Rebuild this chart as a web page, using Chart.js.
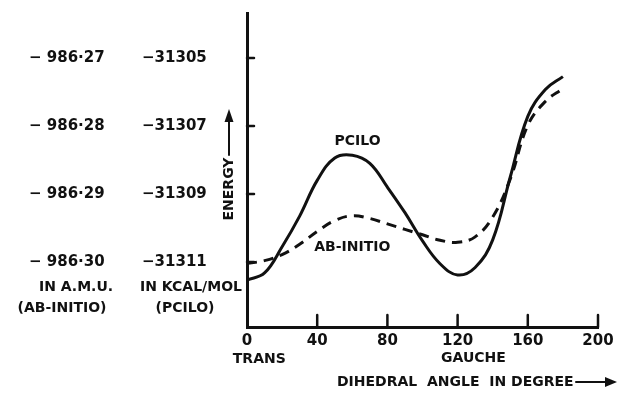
<!DOCTYPE html>
<html>
<head>
<meta charset="utf-8">
<script src="https://cdn.jsdelivr.net/npm/chart.js@4/dist/chart.umd.min.js"></script>
<style>
html,body{margin:0;padding:0;background:#fff;}
canvas{display:block;}
</style>
</head>
<body>
<canvas id="c" width="619" height="394"></canvas>
<script>
// Dihedral angle (degrees)
const angles = [0,10,20,30,40,50,60,70,80,90,100,110,120,130,140,150,160,170,180];
// PCILO energy, kcal/mol
const pciloKcal = [-31311.53,-31311.32,-31310.55,-31309.65,-31308.60,-31307.94,-31307.86,-31308.10,-31308.80,-31309.55,-31310.38,-31311.05,-31311.38,-31311.16,-31310.35,-31308.50,-31306.72,-31305.93,-31305.55];
// Ab-initio energy, a.m.u.
const abInitioAu = [-986.3002,-986.2998,-986.2989,-986.2974,-986.2955,-986.2939,-986.2932,-986.2936,-986.2944,-986.2952,-986.2960,-986.2968,-986.2971,-986.2963,-986.2934,-986.2878,-986.2799,-986.2764,-986.2745];

const xTicks = [0,40,80,120,160,200];
const kcalTicks = [-31305,-31307,-31309,-31311];
const kcalTickLabels = ['\u221231305','\u221231307','\u221231309','\u221231311'];
const auTicks = [-986.27,-986.28,-986.29,-986.30];
const auTickLabels = ['\u2212 986\u00b727','\u2212 986\u00b728','\u2212 986\u00b729','\u2212 986\u00b730'];

const INK = '#111';
const FONT = 'DejaVu Sans';

const decor = {
  id: 'decor',
  afterDraw(chart) {
    const ctx = chart.ctx;
    const xs = chart.scales.x, yk = chart.scales.yk;
    const ca = chart.chartArea;
    ctx.save();
    ctx.strokeStyle = INK; ctx.fillStyle = INK;
    ctx.lineCap = 'round';
    // inner ticks on y axis
    ctx.lineWidth = 2.5;
    kcalTicks.forEach(v => {
      const y = yk.getPixelForValue(v);
      ctx.beginPath(); ctx.moveTo(ca.left, y); ctx.lineTo(ca.left + 7, y); ctx.stroke();
    });
    // inner ticks on x axis
    xTicks.slice(1).forEach(v => {
      const x = xs.getPixelForValue(v);
      ctx.beginPath(); ctx.moveTo(x, ca.bottom); ctx.lineTo(x, ca.bottom - 12); ctx.stroke();
    });
    // text annotations
    ctx.font = 'bold 14px "' + FONT + '"';
    ctx.textAlign = 'center'; ctx.textBaseline = 'middle';
    ctx.fillText('PCILO', xs.getPixelForValue(63), 141);
    ctx.fillText('AB-INITIO', xs.getPixelForValue(60), 247);
    ctx.fillText('TRANS', xs.getPixelForValue(7), 359);
    ctx.fillText('GAUCHE', xs.getPixelForValue(129), 358);
    ctx.fillText('IN A.M.U.', 76, 287);
    ctx.fillText('(AB-INITIO)', 62, 308);
    ctx.fillText('IN KCAL/MOL', 191, 287);
    ctx.fillText('(PCILO)', 185, 308);
    // x title with arrow
    ctx.textAlign = 'left';
    ctx.fillText('DIHEDRAL  ANGLE  IN DEGREE', 337, 382);
    ctx.lineWidth = 2;
    ctx.beginPath(); ctx.moveTo(576, 382); ctx.lineTo(607, 382); ctx.stroke();
    ctx.beginPath(); ctx.moveTo(617, 382); ctx.lineTo(605, 377); ctx.lineTo(605, 387); ctx.closePath(); ctx.fill();
    // ENERGY vertical with arrow
    ctx.save();
    ctx.translate(229, 189);
    ctx.rotate(-Math.PI/2);
    ctx.textAlign = 'center';
    ctx.font = 'bold 14px "' + FONT + '"';
    ctx.fillText('ENERGY', 0, 0);
    ctx.restore();
    ctx.lineWidth = 2;
    ctx.beginPath(); ctx.moveTo(229, 155); ctx.lineTo(229, 120); ctx.stroke();
    ctx.beginPath(); ctx.moveTo(229, 109); ctx.lineTo(224.5, 122); ctx.lineTo(233.5, 122); ctx.closePath(); ctx.fill();
    ctx.restore();
  }
};

new Chart(document.getElementById('c'), {
  type: 'line',
  data: {
    datasets: [
      {
        label: 'PCILO',
        yAxisID: 'yk',
        data: angles.map((a, i) => ({x: a, y: pciloKcal[i]})),
        borderColor: INK, borderWidth: 3, pointRadius: 0,
        tension: 0.4, fill: false
      },
      {
        label: 'AB-INITIO',
        yAxisID: 'ya',
        data: angles.map((a, i) => ({x: a, y: abInitioAu[i]})),
        borderColor: INK, borderWidth: 3, pointRadius: 0,
        borderDash: [10, 7],
        tension: 0.4, fill: false
      }
    ]
  },
  options: {
    responsive: false,
    animation: false,
    devicePixelRatio: 1,
    layout: {padding: {top: 13, right: 21, bottom: 0, left: 29}},
    plugins: {legend: {display: false}, tooltip: {enabled: false}},
    scales: {
      x: {
        type: 'linear', min: 0, max: 200,
        afterBuildTicks: s => { s.ticks = xTicks.map(v => ({value: v})); },
        afterFit: s => { s.height = 67; },
        ticks: {color: INK, font: {family: FONT, size: 15, weight: 'bold'}, padding: 5, maxRotation: 0, autoSkip: false,
                callback: (v, i) => String(xTicks[i])},
        grid: {display: false, drawTicks: false},
        border: {display: true, color: INK, width: 3}
      },
      yk: {
        type: 'linear', position: 'left', weight: 0,
        min: -31312.91, max: -31303.68,
        afterBuildTicks: s => { s.ticks = kcalTicks.map(v => ({value: v})); },
        afterFit: s => { s.width = 105; },
        ticks: {color: INK, font: {family: FONT, size: 15, weight: 'bold'}, padding: 0, crossAlign: 'far', autoSkip: false,
                callback: (v, i) => kcalTickLabels[i]},
        grid: {display: false, drawTicks: false},
        border: {display: true, color: INK, width: 3}
      },
      ya: {
        type: 'linear', position: 'left', weight: 1,
        min: -986.30955, max: -986.2634,
        afterBuildTicks: s => { s.ticks = auTicks.map(v => ({value: v})); },
        afterFit: s => { s.width = 113; },
        ticks: {color: INK, font: {family: FONT, size: 15, weight: 'bold'}, padding: 0, crossAlign: 'far', autoSkip: false,
                callback: (v, i) => auTickLabels[i]},
        grid: {display: false, drawTicks: false},
        border: {display: false}
      }
    }
  },
  plugins: [decor]
});
</script>
</body>
</html>
